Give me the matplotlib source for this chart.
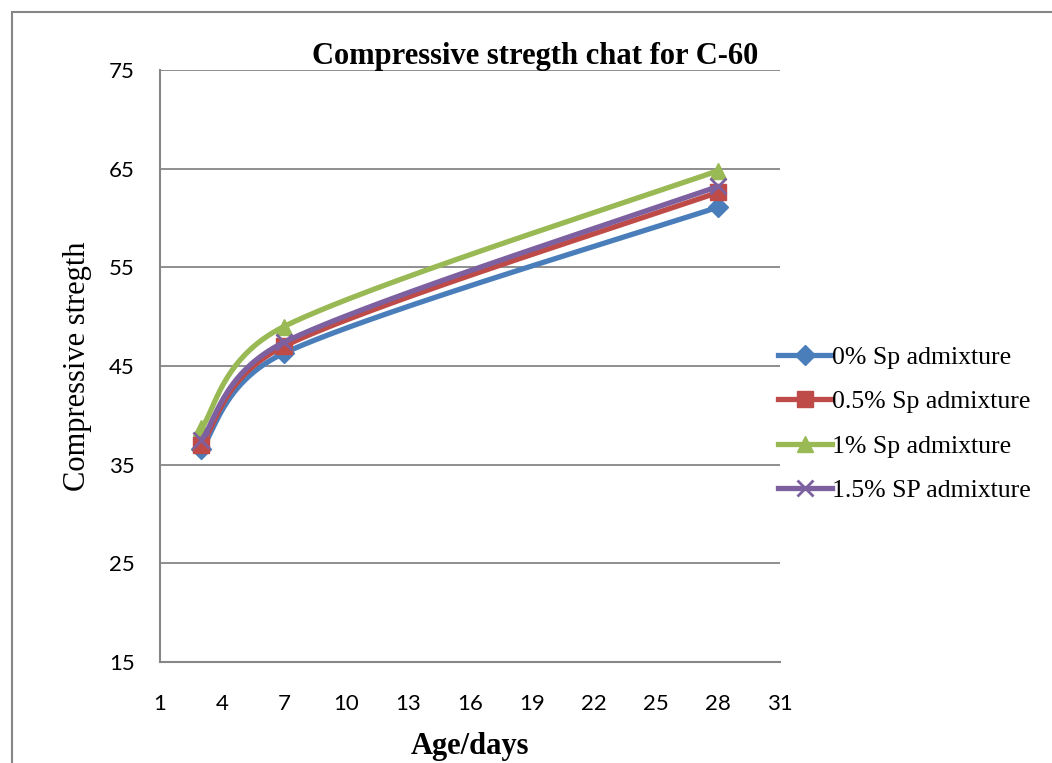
import numpy as np
import matplotlib
matplotlib.use("Agg")
import matplotlib.pyplot as plt
from matplotlib.patches import Rectangle

# Data
days = [3, 7, 28]
sp_0 = [36.6, 46.3, 61.1]
sp_05 = [37.0, 47.0, 62.6]
sp_1 = [38.7, 49.0, 64.8]
sp_15 = [37.5, 47.4, 63.2]

labels = ['0% Sp admixture', '0.5% Sp admixture', '1% Sp admixture', '1.5% SP admixture']
colors = ['#4A7EBB', '#BE4B48', '#98B954', '#7D60A0']
markers = ['D', 's', '^', 'x']

x_ticks = [1, 4, 7, 10, 13, 16, 19, 22, 25, 28, 31]
y_ticks = [15, 25, 35, 45, 55, 65, 75]

serif = ['Liberation Serif', 'DejaVu Serif']
tickfont = ['Lato', 'Liberation Sans', 'DejaVu Sans']

# axis size in pixels, smoothing is done in screen space like Excel does
XL, YL = (1, 31), (15, 75)
W_PX, H_PX = 620, 592


def smooth(xs, ys, n=80):
    # Bezier smoothing, control arms along neighbour direction, capped by segment length
    p = np.column_stack([(np.array(xs) - XL[0]) / (XL[1] - XL[0]) * W_PX,
                         (np.array(ys) - YL[0]) / (YL[1] - YL[0]) * H_PX])
    out = []
    for i in range(len(p) - 1):
        p0 = p[max(i - 1, 0)]
        p1, p2 = p[i], p[i + 1]
        p3 = p[min(i + 2, len(p) - 1)]
        seg_len = np.linalg.norm(p2 - p1)
        d1 = p2 - p0
        d2 = p3 - p1
        a1 = min(np.linalg.norm(d1) / 6, 0.54 * seg_len)
        a2 = min(np.linalg.norm(d2) / 6, 0.54 * seg_len)
        c1 = p1 + d1 / np.linalg.norm(d1) * a1
        c2 = p2 - d2 / np.linalg.norm(d2) * a2
        t = np.linspace(0, 1, n)[:, None]
        seg = ((1 - t) ** 3) * p1 + 3 * ((1 - t) ** 2) * t * c1 + 3 * (1 - t) * t ** 2 * c2 + t ** 3 * p2
        out.append(seg)
    c = np.vstack(out)
    return (c[:, 0] / W_PX * (XL[1] - XL[0]) + XL[0],
            c[:, 1] / H_PX * (YL[1] - YL[0]) + YL[0])


fig = plt.figure(figsize=(10.52, 7.63), dpi=100)
ax = fig.add_axes([160 / 1052, 1 - 662 / 763, 620 / 1052, 592 / 763])

# outer chart frame
fig.patches.append(Rectangle((12 / 1052, -0.05), 1.1, 1 - 12 / 763 + 0.05,
                             transform=fig.transFigure, fill=False,
                             edgecolor='#868686', linewidth=1.5))

series = [sp_0, sp_05, sp_1, sp_15]
zorders = [3, 5, 4, 6]
handles = []
for vals, lab, col, mk, z in zip(series, labels, colors, markers, zorders):
    sx, sy = smooth(days, vals)
    ax.plot(sx, sy, color=col, linewidth=3.8, zorder=z, solid_capstyle='round')
    ms = 12 if mk != 'D' else 10
    mew = 2 if mk == 'x' else 1
    ax.plot(days, vals, linestyle='none', marker=mk, markersize=ms, color=col,
            markeredgecolor=col, markeredgewidth=mew, zorder=z + 0.5)
    h, = ax.plot([], [], color=col, linewidth=3.8, marker=mk, markersize=ms,
                 markeredgecolor=col, markeredgewidth=mew, label=lab)
    handles.append(h)

ax.set_xlim(XL)
ax.set_ylim(YL)
ax.set_xticks(x_ticks)
ax.set_yticks(y_ticks)
ax.tick_params(axis='x', length=0, pad=23, labelsize=16)
ax.tick_params(axis='y', length=0, pad=18, labelsize=16)
for t in ax.get_xticklabels() + ax.get_yticklabels():
    t.set_family(tickfont)
ax.grid(axis='y', color='#868686', linewidth=1.3)
ax.set_axisbelow(True)
for s in ['top', 'right']:
    ax.spines[s].set_visible(False)
for s in ['left', 'bottom']:
    ax.spines[s].set_color('#868686')
    ax.spines[s].set_linewidth(1.5)

ax.set_title('Compressive stregth chat for C-60', family=serif, fontweight='bold',
             fontsize=22, x=(535 - 160) / 620, y=1.0, pad=4)
ax.set_xlabel('Age/days', family=serif, fontweight='bold', fontsize=22, labelpad=13)
ax.set_ylabel('Compressive stregth', family=serif, fontsize=22, labelpad=12)

ax.legend(handles=handles, loc='center left', bbox_to_anchor=(0.997, 0.402),
          frameon=False, prop={'family': serif, 'size': 18.5}, handlelength=2.1,
          handletextpad=0.0, labelspacing=0.84, borderaxespad=0, borderpad=0)

fig.savefig('out.png', dpi=100)
